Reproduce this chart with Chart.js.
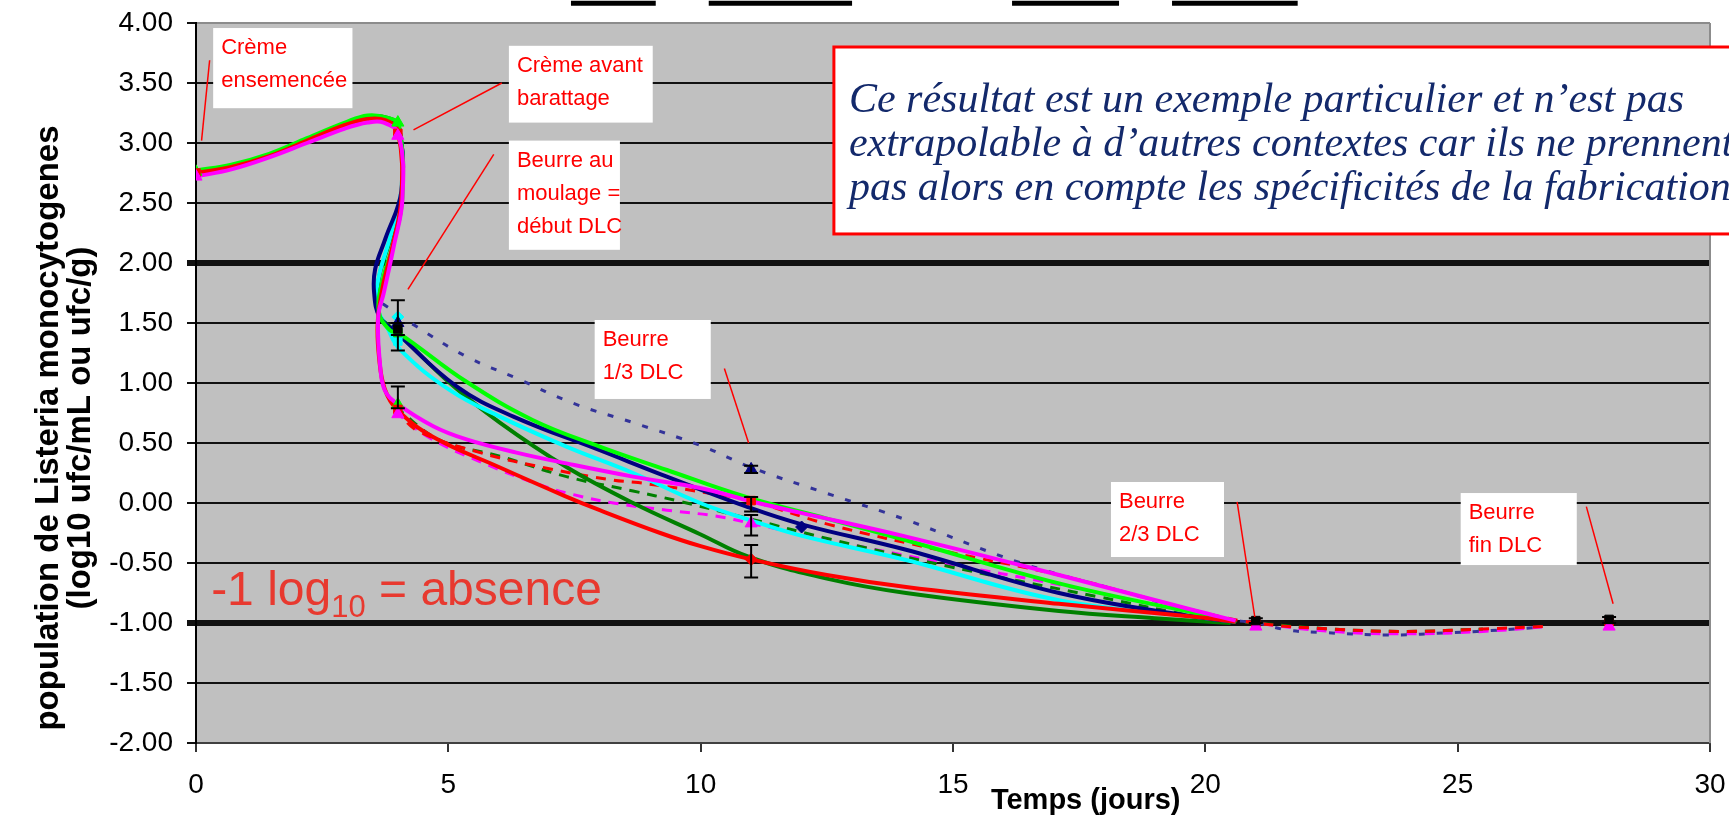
<!DOCTYPE html>
<html>
<head>
<meta charset="utf-8">
<script src="https://cdn.jsdelivr.net/npm/chart.js@4.4.1/dist/chart.umd.min.js"></script>
<style>
  html, body { margin: 0; padding: 0; background: #fff; }
  #wrap { width: 1729px; height: 815px; }
</style>
</head>
<body>
<div id="wrap"><canvas id="chart" width="1729" height="815"></canvas></div>
<script>
const limeDays = [0, 0.7, 1.45, 2.2, 2.95, 3.4, 3.8, 4.02, 4.09, 3.93, 3.72, 3.62, 3.84, 4.04, 5.36, 6.68, 8.0, 9.33, 10.9, 12.5, 14.07, 17.1, 19.83, 20.6];
const limeLogs = [2.77, 2.82, 2.91, 3.04, 3.17, 3.23, 3.21, 3.15, 2.55, 2.19, 1.89, 1.6, 1.44, 1.41, 1.01, 0.69, 0.47, 0.275, 0.05, -0.13, -0.31, -0.67, -0.92, -0.99];

const navyDays = [0, 0.7, 1.45, 2.2, 2.95, 3.4, 3.8, 4.02, 4.07, 3.75, 3.55, 3.53, 3.64, 3.97, 5.17, 6.29, 8.0, 9.33, 10.91, 12.02, 14.07, 17.1, 19.83, 20.6];
const navyLogs = [2.75, 2.8, 2.89, 3.02, 3.15, 3.21, 3.2, 3.13, 2.6, 2.2, 1.95, 1.75, 1.55, 1.42, 0.97, 0.72, 0.44, 0.22, -0.03, -0.18, -0.39, -0.75, -0.95, -0.99];

const cyanDays = [0, 0.7, 1.45, 2.2, 2.95, 3.4, 3.8, 4.02, 4.07, 3.85, 3.62, 3.58, 3.78, 4.04, 5.03, 6.02, 7.34, 8.66, 9.99, 10.96, 11.97, 14.07, 17.1, 19.83, 20.6];
const cyanLogs = [2.74, 2.8, 2.89, 3.02, 3.15, 3.21, 3.2, 3.13, 2.62, 2.22, 1.88, 1.64, 1.47, 1.28, 0.94, 0.72, 0.47, 0.25, 0.0, -0.14, -0.27, -0.475, -0.81, -0.95, -0.99];

const darkGreenDays = [0, 0.7, 1.45, 2.2, 2.95, 3.4, 3.8, 4.02, 4.08, 3.85, 3.62, 3.61, 3.84, 4.04, 5.03, 6.02, 7.34, 8.66, 9.99, 10.96, 12.5, 14.07, 17.1, 19.0, 20.5];
const darkGreenLogs = [2.76, 2.81, 2.9, 3.03, 3.16, 3.22, 3.21, 3.14, 2.58, 2.2, 1.86, 1.58, 1.47, 1.4, 1.0, 0.67, 0.3, 0.0, -0.26, -0.45, -0.63, -0.75, -0.9, -0.96, -1.0];

const redDays = [0, 0.7, 1.45, 2.2, 2.95, 3.4, 3.75, 4.0, 4.07, 3.9, 3.7, 3.6, 3.63, 3.74, 3.98, 4.7, 6.0, 7.3, 8.0, 9.2, 10.0, 11.0, 12.5, 14.07, 17.1, 19.83, 20.6];
const redLogs = [2.75, 2.8, 2.89, 3.02, 3.15, 3.2, 3.19, 3.1, 2.55, 2.15, 1.8, 1.5, 1.2, 0.95, 0.78, 0.55, 0.3, 0.06, -0.06, -0.25, -0.36, -0.47, -0.6, -0.7, -0.84, -0.95, -0.99];

const magentaDays = [0, 0.7, 1.45, 2.2, 2.95, 3.4, 3.72, 4.02, 4.09, 3.92, 3.72, 3.61, 3.65, 3.74, 3.98, 4.7, 5.36, 6.35, 7.34, 8.66, 9.99, 11.04, 11.97, 14.07, 17.1, 19.83, 20.6];
const magentaLogs = [2.72, 2.78, 2.88, 3.0, 3.12, 3.17, 3.17, 3.07, 2.53, 2.14, 1.75, 1.55, 1.14, 0.94, 0.83, 0.64, 0.53, 0.42, 0.33, 0.22, 0.125, 0.01, -0.08, -0.28, -0.6, -0.9, -0.98];

// dashed / dotted curves
const navyDotDays = [3.7, 4.37, 5.36, 6.35, 7.48, 8.66, 9.99, 11.04, 12.5, 14.07, 16.35, 18.47, 19.83, 20.4, 21.0, 21.65, 22.36, 23.63, 24.9, 25.38, 26.5];
const navyDotLogs = [1.66, 1.47, 1.22, 1.04, 0.83, 0.67, 0.48, 0.29, 0.08, -0.14, -0.5, -0.75, -0.92, -0.97, -1.0, -1.06, -1.08, -1.1, -1.08, -1.07, -1.04];

const redDashDays = [3.95, 4.4, 5.63, 6.95, 8.27, 8.76, 9.9, 10.96, 12.55, 14.82, 17.1, 19.83, 21.0, 22.5, 24.0, 25.5, 26.7];
const redDashLogs = [0.78, 0.6, 0.42, 0.29, 0.19, 0.17, 0.1, 0.02, -0.18, -0.4, -0.6, -0.9, -1.0, -1.05, -1.07, -1.05, -1.03];

const greenDashDays = [3.95, 4.83, 6.02, 7.34, 8.66, 9.52, 10.96, 12.55, 14.82, 17.86, 19.9, 21.0, 22.5, 24.0, 25.5];
const greenDashLogs = [0.8, 0.525, 0.39, 0.22, 0.1, 0.02, -0.13, -0.3, -0.52, -0.78, -0.95, -1.0, -1.05, -1.07, -1.05];

const magentaDashDays = [3.95, 4.6, 5.6, 6.82, 7.48, 8.27, 9.33, 10.32, 11.0, 12.55, 14.82, 17.1, 19.83, 21.0, 22.5, 24.0, 25.5, 26.8];
const magentaDashLogs = [0.76, 0.55, 0.35, 0.15, 0.07, 0.0, -0.06, -0.11, -0.17, -0.31, -0.5, -0.68, -0.92, -1.0, -1.07, -1.09, -1.07, -1.03];

// measured points
const redSquareDays = [0, 4, 4, 11, 21, 28];
const redSquareLogs = [2.75, 3.08, 0.78, 0.02, -1.0, -0.99];
const magentaTriDays = [0, 4, 4, 11, 21, 28];
const magentaTriLogs = [2.72, 3.06, 0.74, -0.17, -1.03, -1.03];
const greenTriDays = [0, 4, 4];
const greenTriLogs = [2.76, 3.17, 0.82];
const greenSquareDays = [4];
const greenSquareLogs = [1.42];
const navyTriDays = [4, 11];
const navyTriLogs = [1.5, 0.28];
const navyDiamondDays = [12];
const navyDiamondLogs = [-0.2];
const cyanDiamondDays = [4];
const cyanDiamondLogs = [1.55];
const cyanSquareDays = [4];
const cyanSquareLogs = [1.35];
const redDiamondDays = [11];
const redDiamondLogs = [-0.47];
const blackSquareDays = [4, 21, 28];
const blackSquareLogs = [1.45, -0.98, -0.97];

// error bars
const errDays = [4, 4, 4, 11, 11, 11, 11, 21, 28];
const errLow = [1.5, 1.27, 0.79, 0.25, -0.07, -0.27, -0.62, -1.0, -1.0];
const errHigh = [1.69, 1.4, 0.97, 0.31, 0.05, -0.1, -0.35, -0.96, -0.95];

// callout boxes (days / log units)
const noteLines = [['Crème', 'ensemencée'], ['Crème avant', 'barattage'], ['Beurre au', 'moulage =', 'début DLC'], ['Beurre', '1/3 DLC'], ['Beurre', '2/3 DLC'], ['Beurre', 'fin DLC']];
const noteLeft = [0.34, 6.2, 6.2, 7.9, 18.13, 25.06];
const noteRight = [3.1, 9.05, 8.4, 10.2, 20.37, 27.36];
const noteTop = [3.958, 3.81, 3.02, 1.525, 0.175, 0.083];
const noteBottom = [3.29, 3.17, 2.11, 0.867, -0.45, -0.517];
const leaderX1 = [0.11, 4.31, 5.9, 10.47, 20.63, 27.55];
const leaderY1 = [3.02, 3.11, 2.905, 1.12, 0.01, -0.03];
const leaderX2 = [0.27, 6.06, 4.2, 10.95, 20.98, 28.08];
const leaderY2 = [3.69, 3.5, 1.78, 0.5, -0.95, -0.84];

const remarkLines = ['Ce résultat est un exemple particulier et n’est pas', 'extrapolable à d’autres contextes car ils ne prennent', 'pas alors en compte les spécificités de la fabrication'];

// cut legend strokes at the very top
const legendStart = [7.43, 10.16, 16.17, 19.34];
const legendEnd = [9.11, 13.0, 18.29, 21.83];

const yTitle = ['population de Listeria monocytogenes', '(log10 ufc/mL ou ufc/g)'];
const xTitle = 'Temps (jours)';

function pts(xs, ys) {
  return xs.map((x, i) => ({ x: x, y: ys[i] }));
}

function curve(xs, ys, color, width, dash) {
  return {
    data: pts(xs, ys),
    showLine: true,
    borderColor: color,
    backgroundColor: color,
    borderWidth: width,
    borderDash: dash || [],
    pointRadius: 0,
    tension: 0.4
  };
}

function marks(xs, ys, color, shape, r) {
  return {
    data: pts(xs, ys),
    showLine: false,
    pointStyle: shape,
    pointRadius: r,
    pointBackgroundColor: color,
    pointBorderColor: color,
    pointBorderWidth: 1
  };
}

const SANS = '"Liberation Sans", Arial, sans-serif';

const decor = {
  id: 'decor',
  beforeDraw(chart) {
    const { ctx, chartArea: a } = chart;
    ctx.save();
    ctx.fillStyle = '#c0c0c0';
    ctx.fillRect(a.left, a.top, a.right - a.left, a.bottom - a.top);
    ctx.restore();
  },
  afterDatasetsDraw(chart) {
    const { ctx } = chart;
    const x = chart.scales.x, y = chart.scales.y;
    ctx.save();
    ctx.strokeStyle = '#000';
    ctx.lineWidth = 2;
    errDays.forEach((d, i) => {
      const px = x.getPixelForValue(d);
      const lo = y.getPixelForValue(errLow[i]);
      const hi = y.getPixelForValue(errHigh[i]);
      ctx.beginPath();
      ctx.moveTo(px, lo); ctx.lineTo(px, hi);
      ctx.moveTo(px - 7, lo); ctx.lineTo(px + 7, lo);
      ctx.moveTo(px - 7, hi); ctx.lineTo(px + 7, hi);
      ctx.stroke();
    });
    ctx.restore();
  },
  afterDraw(chart) {
    const { ctx, chartArea: a } = chart;
    const x = chart.scales.x, y = chart.scales.y;
    ctx.save();

    // right frame
    ctx.strokeStyle = '#8c8c8c';
    ctx.lineWidth = 2;
    ctx.beginPath();
    ctx.moveTo(a.right, a.top); ctx.lineTo(a.right, a.bottom);
    ctx.stroke();

    // legend strokes
    ctx.strokeStyle = '#000';
    ctx.lineWidth = 5;
    legendStart.forEach((d, i) => {
      const py = y.getPixelForValue(4.164);
      ctx.beginPath();
      ctx.moveTo(x.getPixelForValue(d), py);
      ctx.lineTo(x.getPixelForValue(legendEnd[i]), py);
      ctx.stroke();
    });

    // leaders
    ctx.strokeStyle = '#ff0000';
    ctx.lineWidth = 1.5;
    leaderX1.forEach((d, i) => {
      ctx.beginPath();
      ctx.moveTo(x.getPixelForValue(d), y.getPixelForValue(leaderY1[i]));
      ctx.lineTo(x.getPixelForValue(leaderX2[i]), y.getPixelForValue(leaderY2[i]));
      ctx.stroke();
    });

    // callout boxes
    ctx.font = '22px ' + SANS;
    ctx.textBaseline = 'middle';
    ctx.textAlign = 'left';
    noteLines.forEach((lines, i) => {
      const l = x.getPixelForValue(noteLeft[i]);
      const r = x.getPixelForValue(noteRight[i]);
      const t = y.getPixelForValue(noteTop[i]);
      const b = y.getPixelForValue(noteBottom[i]);
      ctx.fillStyle = '#fff';
      ctx.fillRect(l, t, r - l, b - t);
      ctx.fillStyle = '#ff0000';
      lines.forEach((s, k) => ctx.fillText(s, l + 8, t + 20 + k * 33));
    });

    // absence text
    const ax = x.getPixelForValue(0.3);
    const ay = y.getPixelForValue(-0.85);
    ctx.fillStyle = '#e8392f';
    ctx.textBaseline = 'alphabetic';
    ctx.font = '48px ' + SANS;
    ctx.fillText('-1 log', ax, ay);
    let w = ctx.measureText('-1 log').width;
    ctx.font = '31px ' + SANS;
    ctx.fillText('10', ax + w, ay + 12);
    w += ctx.measureText('10').width;
    ctx.font = '48px ' + SANS;
    ctx.fillText(' = absence', ax + w, ay);

    // remark box
    const bl = x.getPixelForValue(12.64);
    const bt = y.getPixelForValue(3.8);
    const bb = y.getPixelForValue(2.242);
    ctx.fillStyle = '#fff';
    ctx.fillRect(bl, bt, chart.width - bl + 10, bb - bt);
    ctx.strokeStyle = '#ff0000';
    ctx.lineWidth = 3;
    ctx.strokeRect(bl, bt, chart.width - bl + 10, bb - bt);
    ctx.fillStyle = '#13296b';
    ctx.font = 'italic 42px "Liberation Serif", "Times New Roman", serif';
    remarkLines.forEach((s, k) => ctx.fillText(s, bl + 15, bt + 65 + k * 44));

    // axis titles
    ctx.fillStyle = '#000';
    ctx.textAlign = 'center';
    ctx.textBaseline = 'middle';
    ctx.font = 'bold 29px ' + SANS;
    ctx.fillText(xTitle, x.getPixelForValue(17.63), a.bottom + 58);

    ctx.translate(0, 428);
    ctx.rotate(-Math.PI / 2);
    ctx.font = 'bold 33px ' + SANS;
    ctx.fillText(yTitle[0], 0, 49);
    ctx.fillText(yTitle[1], 0, 81);
    ctx.restore();
  }
};

const chart = new Chart(document.getElementById('chart'), {
  type: 'scatter',
  data: {
    datasets: [
      marks(blackSquareDays, blackSquareLogs, '#000', 'rect', 6),
      marks(magentaTriDays, magentaTriLogs, '#ff00ff', 'triangle', 7),
      marks(redSquareDays, redSquareLogs, '#ff0000', 'rect', 6),
      marks(greenTriDays, greenTriLogs, '#00ff00', 'triangle', 7),
      marks(greenSquareDays, greenSquareLogs, '#00cc00', 'rect', 6),
      marks(navyTriDays, navyTriLogs, '#000080', 'triangle', 7),
      marks(navyDiamondDays, navyDiamondLogs, '#000080', 'rectRot', 6),
      marks(cyanDiamondDays, cyanDiamondLogs, '#00ffff', 'rectRot', 6),
      marks(cyanSquareDays, cyanSquareLogs, '#00ffff', 'rect', 6),
      marks(redDiamondDays, redDiamondLogs, '#ff0000', 'rectRot', 6),
      curve(magentaDays, magentaLogs, '#ff00ff', 4),
      curve(redDays, redLogs, '#ff0000', 4),
      curve(limeDays, limeLogs, '#00ff00', 4),
      curve(navyDays, navyLogs, '#000080', 4),
      curve(cyanDays, cyanLogs, '#00ffff', 4),
      curve(darkGreenDays, darkGreenLogs, '#008000', 4),
      curve(navyDotDays, navyDotLogs, '#333399', 3, [6, 12]),
      curve(redDashDays, redDashLogs, '#ff0000', 3, [10, 8]),
      curve(greenDashDays, greenDashLogs, '#008000', 3, [10, 8]),
      curve(magentaDashDays, magentaDashLogs, '#ff00ff', 3, [10, 8])
    ]
  },
  options: {
    responsive: false,
    animation: false,
    layout: { padding: { top: 23, right: 19, left: 0, bottom: 0 } },
    plugins: { legend: { display: false }, tooltip: { enabled: false } },
    scales: {
      x: {
        type: 'linear',
        min: 0,
        max: 30,
        afterFit: s => { s.height = 72; s.paddingLeft = 0; s.paddingRight = 0; },
        ticks: { stepSize: 5, color: '#000', padding: 16, font: { family: SANS, size: 28 } },
        grid: { drawOnChartArea: false, tickLength: 9, color: '#333', lineWidth: 2 },
        border: { color: '#404040', width: 2 }
      },
      y: {
        min: -2,
        max: 4,
        afterFit: s => { s.width = 196; s.paddingTop = 0; s.paddingBottom = 0; },
        ticks: {
          stepSize: 0.5,
          color: '#000',
          padding: 14,
          font: { family: SANS, size: 28 },
          callback: v => v.toFixed(2)
        },
        grid: {
          color: c => (c.tick && c.tick.value === 4) ? '#8c8c8c' : '#111',
          tickColor: '#111',
          lineWidth: c => (c.tick && (c.tick.value === 2 || c.tick.value === -1)) ? 6 : 2,
          tickLength: 9
        },
        border: { color: '#000', width: 2 }
      }
    }
  },
  plugins: [decor]
});
</script>
</body>
</html>
